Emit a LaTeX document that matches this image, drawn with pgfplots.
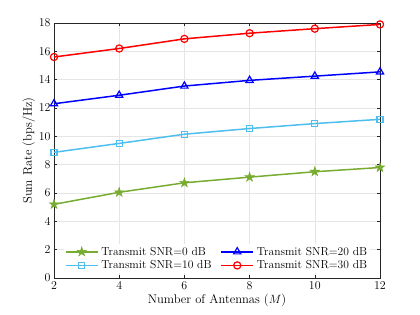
\documentclass[border=0pt]{standalone}
\usepackage{pgfplots}
\pgfplotsset{compat=1.18}
\definecolor{mgreen}{rgb}{0.466,0.674,0.188}
\definecolor{mcyan}{rgb}{0.301,0.745,0.933}
\definecolor{axgray}{rgb}{0.15,0.15,0.15}
\pgfdeclareplotmark{fstar}{%
  \pgfpathmoveto{\pgfpointpolar{90}{1.3\pgfplotmarksize}}%
  \pgfpathlineto{\pgfpointpolar{126}{0.5\pgfplotmarksize}}%
  \pgfpathlineto{\pgfpointpolar{162}{1.3\pgfplotmarksize}}%
  \pgfpathlineto{\pgfpointpolar{198}{0.5\pgfplotmarksize}}%
  \pgfpathlineto{\pgfpointpolar{234}{1.3\pgfplotmarksize}}%
  \pgfpathlineto{\pgfpointpolar{270}{0.5\pgfplotmarksize}}%
  \pgfpathlineto{\pgfpointpolar{306}{1.3\pgfplotmarksize}}%
  \pgfpathlineto{\pgfpointpolar{342}{0.5\pgfplotmarksize}}%
  \pgfpathlineto{\pgfpointpolar{18}{1.3\pgfplotmarksize}}%
  \pgfpathlineto{\pgfpointpolar{54}{0.5\pgfplotmarksize}}%
  \pgfpathclose
  \pgfusepathqfillstroke}
\newcommand{\fs}{\fontsize{12.6}{15}\selectfont}
\newcommand{\ft}{\fontsize{11.5}{14}\selectfont}
\newcommand{\fl}{\fontsize{11.6}{13.8}\selectfont}
\begin{document}
\begin{tikzpicture}
\path[use as bounding box] (-54bp,-37bp) rectangle (366bp,278bp);
\begin{axis}[
  scale only axis,
  width=326bp, height=255bp,
  at={(0,0)}, anchor=south west,
  xmin=2, xmax=12, ymin=0, ymax=18,
  xtick={2,4,...,12}, ytick={0,2,...,18},
  grid=major,
  major grid style={color=black!10, line width=0.4pt},
  axis line style={axgray, line width=0.5pt},
  tick style={axgray, line width=0.5pt},
  major tick length=3.5pt,
  tick align=inside,
  xtick pos=both, ytick pos=both,
  tick label style={font=\ft},
  label style={font=\fs},
  xlabel={Number of Antennas ($M$)},
  ylabel={Sum Rate (bps/Hz)},
  xlabel style={yshift=2pt},
  ylabel style={yshift=-3pt},
  legend columns=2,
  legend style={at={(0.03,0.018)}, anchor=south west, draw=none, fill=white,
    font=\fl, row sep=0pt, column sep=1pt, inner sep=1pt,
    /tikz/every even column/.append style={column sep=7pt}},
  legend cell align=left,
  legend image code/.code={
    \draw[mark=none] (0bp,0bp) -- (32bp,0bp);
    \draw[only marks] plot coordinates {(16bp,0bp)};},
]
\addplot[mgreen, line width=1.5pt, mark=fstar, mark size=3.8pt, mark options={solid, fill=mgreen, line width=0.5pt}]
  coordinates {(2,5.2) (4,6.05) (6,6.72) (8,7.12) (10,7.5) (12,7.8)};
\addlegendentry{Transmit SNR=0 dB}
\addplot[blue, line width=1.5pt, mark=triangle, mark size=4.2pt, mark options={solid, fill=white, line width=1.2pt}]
  coordinates {(2,12.3) (4,12.9) (6,13.55) (8,13.95) (10,14.25) (12,14.55)};
\addlegendentry{Transmit SNR=20 dB}
\addplot[mcyan, line width=1.5pt, mark=square, mark size=3pt, mark options={solid, fill=white, line width=1.2pt}]
  coordinates {(2,8.87) (4,9.5) (6,10.15) (8,10.55) (10,10.9) (12,11.2)};
\addlegendentry{Transmit SNR=10 dB}
\addplot[red, line width=1.5pt, mark=o, mark size=3.6pt, mark options={solid, fill=white, line width=1.2pt}]
  coordinates {(2,15.6) (4,16.2) (6,16.88) (8,17.28) (10,17.6) (12,17.9)};
\addlegendentry{Transmit SNR=30 dB}
\end{axis}
\end{tikzpicture}
\end{document}
